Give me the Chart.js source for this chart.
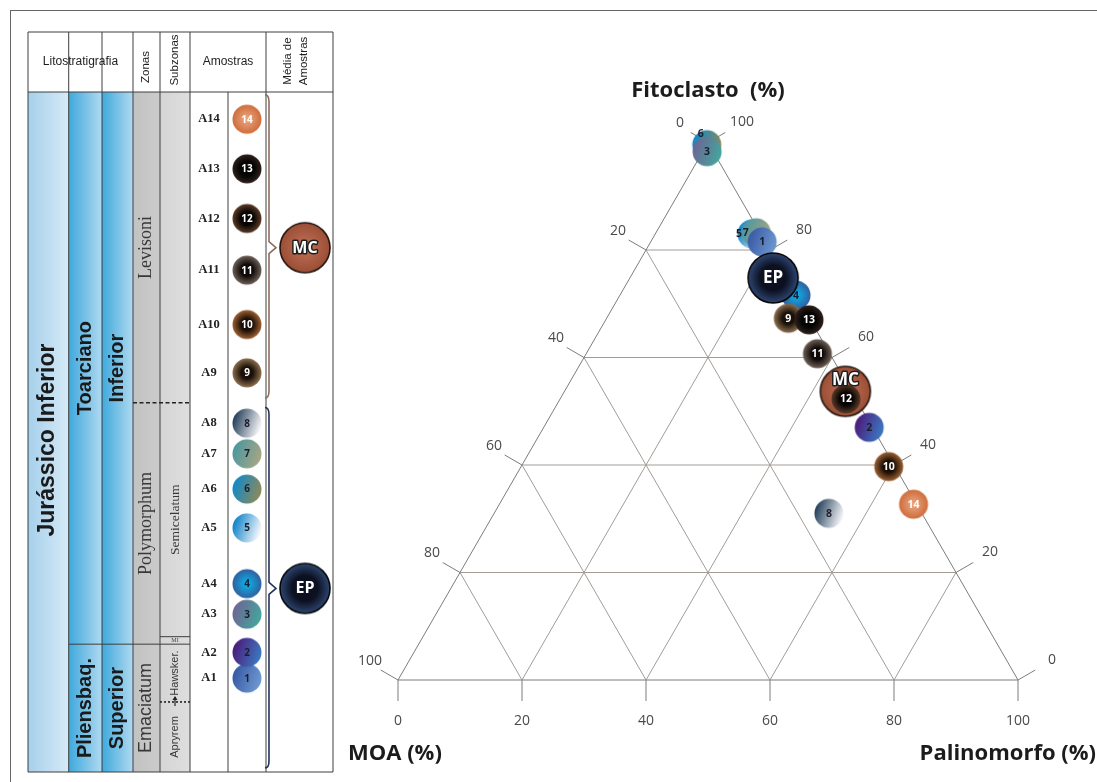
<!DOCTYPE html>
<html>
<head>
<meta charset="utf-8">
<script src="https://cdn.jsdelivr.net/npm/chart.js@4.4.1/dist/chart.umd.min.js"></script>
<style>
  html, body { margin: 0; padding: 0; background: #fff; width: 1097px; height: 782px; overflow: hidden; }
  #moldura { position: absolute; left: 10px; top: 10px; right: 0; bottom: 0; border-top: 1px solid #666; border-left: 1px solid #666; }
  #coluna { position: absolute; left: 20px; top: 25px; }
  #ternario { position: absolute; left: 0; top: 0; }
</style>
</head>
<body>
<div id="moldura"></div>
<canvas id="coluna" width="320" height="755"></canvas>
<canvas id="ternario" width="1097" height="782"></canvas>
<script>
// amostras A1..A14
const amostras = ['1', '2', '3', '4', '5', '6', '7', '8', '9', '10', '11', '12', '13', '14'];
const nomesAmostras = ['A1', 'A2', 'A3', 'A4', 'A5', 'A6', 'A7', 'A8', 'A9', 'A10', 'A11', 'A12', 'A13', 'A14'];
// posicao na coluna (0 = base, 100 = topo)
const posicaoAmostras = [13.8, 17.6, 23.2, 27.7, 35.9, 41.6, 46.8, 51.3, 58.7, 65.8, 73.8, 81.4, 88.7, 96.0];

// composicao (%)
const moa =         [0.5, 0.5, 1.0, 0.0, 1.4, 0.4, 0.6, 15.0, 3.4, 1.0, 2.0, 1.6, 0.2, 0.5];
const fitoclasto =  [81.5, 47.0, 98.3, 71.6, 83.0, 99.6, 83.2, 31.0, 67.3, 39.7, 60.7, 52.3, 67.0, 32.7];
const palinomorfo = [18.0, 52.5, 0.7, 28.4, 15.6, 0.0, 16.2, 54.0, 29.3, 59.3, 37.3, 46.1, 32.8, 66.8];

// medias
const medias = ['EP', 'MC'];
const moaMedia = [2.1, 1.0];
const fitoMedia = [74.8, 53.7];
const palinoMedia = [23.1, 45.3];
const posicaoMedias = [27.0, 77.1];
const chaveMedias = [[0.6, 53.6], [55.0, 99.6]];

// estratigrafia
const andares = ['Toarciano', 'Pliensbaq.'];
const subandares = ['Inferior', 'Superior'];
const limiteAndares = [100, 18.8, 0];
const zonas = ['Levisoni', 'Polymorphum', 'Emaciatum'];
const limiteZonas = [100, 54.3, 18.8, 0];
const subzonas = ['', 'Semicelatum', 'MI', 'Hawsker.', 'Apryrem'];
const limiteSubzonas = [100, 54.3, 19.9, 18.8, 10.3, 0];

const ticksTernario = [0, 20, 40, 60, 80, 100];

// estilos dos circulos
const estilos = {
  '1':  { tipo: 'lin', cores: ['#3a5ba6', '#6e98d0'], texto: '#1e1e2a' },
  '2':  { tipo: 'lin', cores: ['#4b1d7c', '#3c78c0'], texto: '#1e1e2a' },
  '3':  { tipo: 'lin', cores: ['#6c6795', '#45a59d'], texto: '#1e1e2a' },
  '4':  { tipo: 'rad', cores: ['#10a6df', '#30609f'], meio: 0.2, texto: '#10203a' },
  '5':  { tipo: 'lin', cores: ['#1385ca', '#f5f7fb'], texto: '#1e1e2a' },
  '6':  { tipo: 'lin', cores: ['#1489c8', '#8c8a5a'], texto: '#1e1e2a' },
  '7':  { tipo: 'lin', cores: ['#4d98a0', '#a6a584'], texto: '#1e1e2a' },
  '8':  { tipo: 'lin', cores: ['#28435e', '#f4f4f7'], texto: '#1e1e2a' },
  '9':  { tipo: 'rad', cores: ['#1a1008', '#8c6e4e'], meio: 0.4, texto: '#fff' },
  '10': { tipo: 'rad', cores: ['#1a0d05', '#9c6032'], meio: 0.4, texto: '#fff' },
  '11': { tipo: 'rad', cores: ['#0e0906', '#6e6057'], meio: 0.4, texto: '#fff' },
  '12': { tipo: 'rad', cores: ['#060302', '#5a3a28'], meio: 0.45, texto: '#fff' },
  '13': { tipo: 'rad', cores: ['#050505', '#2e201a'], meio: 0.5, texto: '#fff' },
  '14': { tipo: 'rad', cores: ['#eaa47e', '#cf6d3c'], meio: 0.1, texto: '#fff' },
  'EP': { tipo: 'rad', cores: ['#0c1020', '#2e4672'], meio: 0.5, borda: '#060606', texto: '#fff' },
  'MC': { tipo: 'rad', cores: ['#b6674e', '#9b4e36'], meio: 0.3, borda: '#24150e', texto: '#fff', contorno: true }
};

const ordemTernario = ['6', '3', '5', '7', '1', '4', '9', '13', '11', 'EP', '2', '10', '14', '8', 'MC', '12'];
const desvioRotulo = { '5': [-13, 0], '7': [-10.5, 0], '6': [-6, -11], 'MC': [0, -12] };

function circulo(id, r) {
  const e = estilos[id];
  const b = e.borda ? 1.6 : 0;
  const s = 2 * Math.ceil(r + b + 1);
  const cv = document.createElement('canvas');
  cv.width = s; cv.height = s;
  const g = cv.getContext('2d');
  const c = s / 2;
  let grad;
  if (e.tipo === 'lin') {
    grad = g.createLinearGradient(c - r, c - r * 0.35, c + r, c + r * 0.35);
    grad.addColorStop(0.05, e.cores[0]);
    grad.addColorStop(0.95, e.cores[1]);
  } else {
    grad = g.createRadialGradient(c, c, 0, c, c, r);
    grad.addColorStop(0, e.cores[0]);
    grad.addColorStop(e.meio, e.cores[0]);
    grad.addColorStop(1, e.cores[1]);
  }
  g.beginPath();
  g.arc(c, c, r, 0, Math.PI * 2);
  g.fillStyle = grad;
  g.fill();
  if (b) { g.lineWidth = b; g.strokeStyle = e.borda; g.stroke(); }
  return cv;
}

const raio = id => (medias.includes(id) ? 25 : 14.5);
const imgs = {};
[...amostras, ...medias].forEach(id => { imgs[id] = circulo(id, raio(id)); });

function rotulo(ctx, id, x, y, tamMedia, tamAmostra) {
  const e = estilos[id];
  const media = medias.includes(id);
  ctx.font = 'bold ' + (media ? tamMedia : tamAmostra) + 'px "Open Sans"';
  ctx.textAlign = 'center';
  ctx.textBaseline = 'middle';
  if (e.contorno) {
    ctx.lineWidth = 3;
    ctx.strokeStyle = '#1e1e1e';
    ctx.lineJoin = 'round';
    ctx.strokeText(id, x, y);
  }
  ctx.fillStyle = e.texto;
  ctx.fillText(id, x, y);
}

function textoVertical(ctx, txt, cx, cy, fonte, cor) {
  ctx.save();
  ctx.translate(cx, cy);
  ctx.rotate(-Math.PI / 2);
  ctx.font = fonte;
  ctx.fillStyle = cor;
  ctx.textAlign = 'center';
  ctx.textBaseline = 'middle';
  ctx.fillText(txt, 0, 0);
  ctx.restore();
}

// ---------------- coluna estratigrafica ----------------
const bordasColunas = [0, 40.7, 74, 105, 132, 162, 200, 238, 305];

const colunaPlugin = {
  id: 'colunaPlugin',
  beforeDatasetsDraw(chart) {
    const { ctx, chartArea: a, scales: { x, y } } = chart;
    const X = u => x.getPixelForValue(u);
    const Y = v => y.getPixelForValue(v);
    const topo = a.top - 60;
    const e = bordasColunas;
    ctx.save();

    const faixa = (u0, u1, c0, c1) => {
      const gr = ctx.createLinearGradient(X(u0), 0, X(u1), 0);
      gr.addColorStop(0, c0); gr.addColorStop(1, c1);
      ctx.fillStyle = gr;
      ctx.fillRect(X(u0), a.top, X(u1) - X(u0), a.bottom - a.top);
    };
    faixa(e[0], e[1], '#a6d0eb', '#d6eaf7');
    faixa(e[1], e[2], '#3fa9dd', '#b0d9f0');
    faixa(e[2], e[3], '#3fa9dd', '#b0d9f0');
    faixa(e[3], e[4], '#c2c2c2', '#cbcbcb');
    faixa(e[4], e[5], '#d5d5d5', '#dedede');

    const linha = (x0, y0, x1, y1) => { ctx.beginPath(); ctx.moveTo(x0, y0); ctx.lineTo(x1, y1); ctx.stroke(); };
    ctx.strokeStyle = '#3e3e3e';
    ctx.lineWidth = 1;
    e.forEach(u => {
      const y0 = (u === 200) ? a.top : topo;
      linha(X(u), y0, X(u), a.bottom);
    });
    linha(X(0), topo, X(305), topo);
    linha(X(0), a.top, X(305), a.top);
    linha(X(0), a.bottom, X(305), a.bottom);
    // limite andares
    linha(X(e[1]), Y(limiteAndares[1]), X(e[4]), Y(limiteAndares[1]));
    // faixa MI
    linha(X(e[4]), Y(limiteSubzonas[2]), X(e[5]), Y(limiteSubzonas[2]));
    linha(X(e[4]), Y(limiteSubzonas[3]), X(e[5]), Y(limiteSubzonas[3]));
    // limite Levisoni / Polymorphum
    ctx.setLineDash([4, 2.5]);
    ctx.lineWidth = 1.6;
    ctx.strokeStyle = '#222';
    linha(X(e[3]), Y(limiteZonas[1]), X(e[5]), Y(limiteZonas[1]));
    ctx.setLineDash([2, 2]);
    linha(X(e[4]), Y(limiteSubzonas[4]), X(e[5]), Y(limiteSubzonas[4]));
    ctx.setLineDash([]);
    // marcador Hawsker
    const mx = X(147), my = Y(limiteSubzonas[4]);
    ctx.lineWidth = 1.2;
    linha(mx, my - 5, mx, my + 4);
    ctx.beginPath(); ctx.moveTo(mx - 2.5, my - 2); ctx.lineTo(mx, my - 6); ctx.lineTo(mx + 2.5, my - 2); ctx.closePath();
    ctx.fillStyle = '#222'; ctx.fill();

    // cabecalho
    const cab = '#1e1e1e';
    ctx.font = '12px "Liberation Sans"';
    ctx.fillStyle = cab; ctx.textAlign = 'center'; ctx.textBaseline = 'middle';
    ctx.fillText('Litostratigrafia', (X(e[0]) + X(e[3])) / 2, topo + 30);
    ctx.fillText('Amostras', (X(e[5]) + X(e[7])) / 2, topo + 30);
    textoVertical(ctx, 'Zonas', X(e[3]) + 12.5, topo + 35, '11.5px "Liberation Sans"', cab);
    textoVertical(ctx, 'Subzonas', (X(e[4]) + X(e[5])) / 2, topo + 28, '11.5px "Liberation Sans"', cab);
    textoVertical(ctx, 'Média de', X(e[7]) + 22, topo + 29, '11.5px "Liberation Sans"', cab);
    textoVertical(ctx, 'Amostras', X(e[7]) + 38, topo + 29, '11.5px "Liberation Sans"', cab);

    // corpo
    const meio = (v0, v1) => (Y(v0) + Y(v1)) / 2;
    const cx = i => (X(e[i]) + X(e[i + 1])) / 2;
    textoVertical(ctx, 'Jurássico Inferior', cx(0) - 1, meio(100, 0) + 8, 'bold 23px "Liberation Sans"', '#1a1a1a');
    andares.forEach((t, i) => textoVertical(ctx, t, cx(1), meio(limiteAndares[i], limiteAndares[i + 1]), 'bold 20px "Liberation Sans"', '#1a1a1a'));
    subandares.forEach((t, i) => textoVertical(ctx, t, cx(2), meio(limiteAndares[i], limiteAndares[i + 1]), 'bold 20px "Liberation Sans"', '#1a1a1a'));
    zonas.forEach((t, i) => {
      const f = (i === 2) ? '18px "Liberation Sans"' : '18px "Liberation Serif"';
      textoVertical(ctx, t, cx(3), meio(limiteZonas[i], limiteZonas[i + 1]), f, '#383838');
    });
    subzonas.forEach((t, i) => {
      if (!t) return;
      let f = '13.5px "Liberation Serif"';
      if (t === 'Hawsker.' || t === 'Apryrem') f = '11px "Liberation Sans"';
      if (t === 'MI') {
        ctx.font = '6px "Liberation Serif"'; ctx.fillStyle = '#444'; ctx.textAlign = 'center'; ctx.textBaseline = 'middle';
        ctx.fillText(t, cx(4), meio(limiteSubzonas[i], limiteSubzonas[i + 1]));
      } else {
        textoVertical(ctx, t, cx(4), meio(limiteSubzonas[i], limiteSubzonas[i + 1]), f, '#383838');
      }
    });

    // chaves das medias
    const coresChave = ['#22325a', '#8c6c5e'];
    chaveMedias.forEach((c, i) => {
      const xv = X(241), xp = X(248), xe = X(237);
      const y0 = Y(c[1]), y1 = Y(c[0]), ym = Y(posicaoMedias[i]);
      ctx.strokeStyle = coresChave[i];
      ctx.lineWidth = 1.6;
      ctx.beginPath();
      ctx.moveTo(xe, y0);
      ctx.quadraticCurveTo(xv, y0, xv, y0 + 7);
      ctx.lineTo(xv, ym - 6);
      ctx.lineTo(xp, ym);
      ctx.lineTo(xv, ym + 6);
      ctx.lineTo(xv, y1 - 7);
      ctx.quadraticCurveTo(xv, y1, xe, y1);
      ctx.stroke();
    });

    // nomes das amostras
    ctx.font = 'bold 12.5px "Liberation Serif"';
    ctx.fillStyle = '#222'; ctx.textAlign = 'center'; ctx.textBaseline = 'middle';
    nomesAmostras.forEach((n, i) => ctx.fillText(n, cx(5), Y(posicaoAmostras[i])));
    ctx.restore();
  },
  afterDatasetsDraw(chart) {
    const ctx = chart.ctx;
    const meta = chart.getDatasetMeta(0);
    ctx.save();
    meta.data.forEach((p, i) => {
      const id = chart.data.datasets[0].data[i].id;
      rotulo(ctx, id, p.x, p.y + 0.5, 16, 10);
    });
    ctx.restore();
  }
};

const pontosColuna = [
  ...amostras.map((id, i) => ({ x: 219, y: posicaoAmostras[i], id })),
  ...medias.map((id, i) => ({ x: 277, y: posicaoMedias[i], id }))
];

new Chart(document.getElementById('coluna'), {
  type: 'scatter',
  data: {
    datasets: [{
      data: pontosColuna,
      pointStyle: c => imgs[c.raw.id],
      pointRadius: c => raio(c.raw.id),
      clip: false
    }]
  },
  options: {
    responsive: false,
    animation: false,
    events: [],
    layout: { autoPadding: false, padding: { left: 8, right: 7, top: 67, bottom: 8 } },
    scales: {
      x: { type: 'linear', min: 0, max: 305, display: false },
      y: { type: 'linear', min: 0, max: 100, display: false }
    },
    plugins: { legend: { display: false }, tooltip: { enabled: false } }
  },
  plugins: [colunaPlugin]
});

// ---------------- diagrama ternario ----------------
const ternarioPlugin = {
  id: 'ternarioPlugin',
  beforeDatasetsDraw(chart) {
    const { ctx, chartArea: a, scales: { x, y } } = chart;
    const P = (p, f) => [x.getPixelForValue(p + f / 2), y.getPixelForValue(f)];
    const seg = (p0, p1) => { ctx.beginPath(); ctx.moveTo(p0[0], p0[1]); ctx.lineTo(p1[0], p1[1]); ctx.stroke(); };
    ctx.save();
    ctx.lineWidth = 1;
    ctx.strokeStyle = '#a29c96';
    ticksTernario.slice(1, -1).forEach(k => {
      seg(P(0, k), P(100 - k, k));
      seg(P(k, 0), P(k, 100 - k));
      seg(P(100 - k, 0), P(0, 100 - k));
    });
    ctx.strokeStyle = '#7c7c7c';
    ctx.beginPath();
    const v0 = P(0, 0), v1 = P(100, 0), v2 = P(0, 100);
    ctx.moveTo(v0[0], v0[1]); ctx.lineTo(v1[0], v1[1]); ctx.lineTo(v2[0], v2[1]); ctx.closePath();
    ctx.stroke();

    ctx.font = '14px "Open Sans"';
    ctx.fillStyle = '#4a4a4a';
    ctx.textAlign = 'center';
    ctx.textBaseline = 'middle';
    ticksTernario.forEach(k => {
      const b = P(k, 0);
      seg(b, [b[0], b[1] + 21]);
      ctx.fillText(String(k), b[0], b[1] + 41);
      const l = P(0, 100 - k);
      seg(l, [l[0] - 17.3, l[1] - 10]);
      ctx.fillText(String(k), l[0] - 28, l[1] - 19);
      const r = P(100 - k, k);
      seg(r, [r[0] + 17.3, r[1] - 10]);
      ctx.fillText(String(k), r[0] + 34, r[1] - 20);
    });

    ctx.font = 'bold 22px "Open Sans"';
    ctx.fillStyle = '#1c1c1c';
    ctx.fillText('Fitoclasto  (%)', P(0, 100)[0], a.top - 52);
    ctx.textAlign = 'left';
    ctx.fillText('MOA (%)', a.left - 50, a.bottom + 74);
    ctx.textAlign = 'right';
    ctx.fillText('Palinomorfo (%)', chart.width - 1, a.bottom + 74);
    ctx.restore();
  },
  afterDatasetsDraw(chart) {
    const ctx = chart.ctx;
    const meta = chart.getDatasetMeta(0);
    ctx.save();
    meta.data.forEach((p, i) => {
      const id = chart.data.datasets[0].data[i].id;
      const d = desvioRotulo[id] || [0, 0];
      rotulo(ctx, id, p.x + d[0], p.y + d[1] + 0.5, 17, 10.5);
    });
    ctx.restore();
  }
};

const pontosTernario = ordemTernario.map(id => {
  let i = amostras.indexOf(id);
  if (i >= 0) return { x: palinomorfo[i] + fitoclasto[i] / 2, y: fitoclasto[i], id };
  i = medias.indexOf(id);
  return { x: palinoMedia[i] + fitoMedia[i] / 2, y: fitoMedia[i], id };
});

new Chart(document.getElementById('ternario'), {
  type: 'scatter',
  data: {
    datasets: [{
      data: pontosTernario,
      pointStyle: c => imgs[c.raw.id],
      pointRadius: c => raio(c.raw.id),
      clip: false
    }]
  },
  options: {
    responsive: false,
    animation: false,
    events: [],
    layout: { autoPadding: false, padding: { left: 398, right: 79, top: 142.5, bottom: 102 } },
    scales: {
      x: { type: 'linear', min: 0, max: 100, display: false },
      y: { type: 'linear', min: 0, max: 100, display: false }
    },
    plugins: { legend: { display: false }, tooltip: { enabled: false } }
  },
  plugins: [ternarioPlugin]
});
</script>
</body>
</html>
